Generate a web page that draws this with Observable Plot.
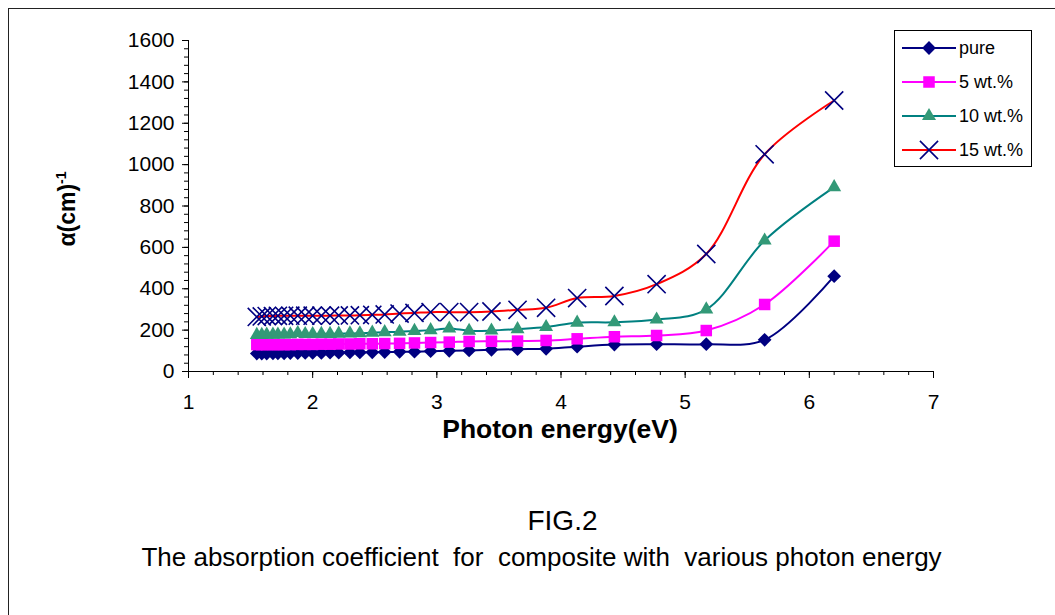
<!DOCTYPE html>
<html>
<head>
<meta charset="utf-8">
<script src="https://cdn.jsdelivr.net/npm/d3@7"></script>
<script src="https://cdn.jsdelivr.net/npm/@observablehq/plot@0.6"></script>
<style>
  html, body { margin: 0; padding: 0; background: #fff; }
  #wrap { position: relative; width: 1055px; height: 615px; background: #fff; overflow: hidden;
          font-family: "Liberation Sans", Arial, sans-serif; }
  #frame { position: absolute; left: 8px; top: 8px; right: -2px; bottom: -2px;
           border-left: 1px solid #222; border-top: 1px solid #222; }
  #chart { position: absolute; left: 0; top: 0; }
  .cap { position: absolute; left: 0; width: 1055px; text-align: center; color: #000; white-space: pre; line-height: 1.15; }
</style>
</head>
<body>
<div id="wrap">
  <div id="frame"></div>
  <div id="chart"></div>
  <div class="cap" id="fig" style="left:35px; top:505px; font-size:28px;">FIG.2</div>
  <div class="cap" id="capline" style="left:14px; top:543px; font-size:26px;">The absorption coefficient  for  composite with  various photon energy</div>
</div>
<script>
// ---- data ----
const energy = [6.2, 5.64, 5.17, 4.77, 4.43, 4.13, 3.88, 3.65, 3.44, 3.26, 3.1, 2.95, 2.82, 2.7, 2.58, 2.48,
                2.38, 2.3, 2.21, 2.14, 2.07, 2.0, 1.94, 1.88, 1.82, 1.77, 1.72, 1.68, 1.63, 1.59, 1.55];
const pure  = [461, 153, 132, 132, 130, 120, 110, 108, 105, 102, 100, 98, 96, 95, 94, 93,
               92, 92, 91, 91, 90, 90, 90, 89, 89, 88, 88, 88, 87, 87, 87];
const wt5   = [630, 324, 198, 174, 168, 158, 150, 147, 146, 145, 142, 140, 138, 136, 135, 134,
               134, 133, 133, 132, 132, 131, 131, 131, 130, 130, 130, 130, 130, 130, 130];
const wt10  = [891, 633, 300, 251, 238, 236, 215, 205, 198, 197, 208, 200, 196, 192, 190, 188,
               185, 184, 183, 182, 182, 181, 181, 186, 180, 179, 179, 178, 178, 177, 177];
const wt15  = [1310, 1050, 568, 422, 365, 355, 308, 298, 290, 287, 287, 287, 283, 280, 276, 274,
               272, 271, 271, 270, 270, 270, 270, 270, 270, 269, 269, 268, 268, 266, 264];
const seriesNames = ["pure", "5 wt.%", "10 wt.%", "15 wt.%"];
const seriesValues = [pure, wt5, wt10, wt15];
const xTicks = [1, 2, 3, 4, 5, 6, 7];
const yTicks = [0, 200, 400, 600, 800, 1000, 1200, 1400, 1600];
const xLabel = "Photon energy(eV)";
const yLabelMain = "α(cm)";
const yLabelSup = "-1";

// ---- styles ----
const styles = [
  {line: "#000080", symbol: "diamond2", fill: "#000080", stroke: "none", r: 6.2, sw: 0, d3sym: d3.symbolDiamond2},
  {line: "#FF00FF", symbol: "square",   fill: "#FF00FF", stroke: "none", r: 6.5, sw: 0, d3sym: d3.symbolSquare},
  {line: "#008080", symbol: "triangle", fill: "#339977", stroke: "none", r: 5.2, sw: 0, d3sym: d3.symbolTriangle},
  {line: "#FF0000", symbol: "times",    fill: "none",    stroke: "#000080", r: 8.3, sw: 1.6, d3sym: d3.symbolTimes}
];

const rows = seriesNames.map((s, i) => energy.map((e, j) => ({series: s, x: e, y: seriesValues[i][j]})));

const minorX = d3.range(10, 71, 2).map(v => v / 10);
const minorY = d3.range(0, 1601, 40);
const fmt = d => String(d);

const marks = [
  Plot.axisX({ticks: minorX, tickSize: 4, tickFormat: () => "", label: null}),
  Plot.axisX({ticks: xTicks, tickSize: 7, tickFormat: () => "", label: null}),
  Plot.axisX({ticks: xTicks, tickSize: 0, tickPadding: 23, fontSize: 21, tickFormat: fmt, label: null}),
  Plot.axisY({ticks: minorY, tickSize: 4, tickFormat: () => "", label: null}),
  Plot.axisY({ticks: yTicks, tickSize: 6, tickFormat: () => "", label: null}),
  Plot.axisY({ticks: yTicks, tickSize: 0, tickPadding: 14, fontSize: 21, tickFormat: fmt, label: null}),
  Plot.ruleY([0], {stroke: "#000", strokeWidth: 1}),
  Plot.ruleX([1], {stroke: "#000", strokeWidth: 1})
];
rows.forEach((data, i) => {
  const st = styles[i];
  marks.push(Plot.line(data, {x: "x", y: "y", stroke: st.line, strokeWidth: 2, curve: "catmull-rom"}));
  marks.push(Plot.dot(data, {x: "x", y: "y", symbol: () => st.symbol, fill: st.fill, stroke: st.stroke,
                              strokeWidth: st.sw, r: st.r}));
});

const svg = Plot.plot({
  width: 1055,
  height: 460,
  marginLeft: 188,
  marginRight: 122,
  marginTop: 40,
  marginBottom: 89,
  x: {domain: [1, 7]},
  y: {domain: [0, 1600]},
  symbol: {type: "identity"},
  style: {fontFamily: "'Liberation Sans', Arial, sans-serif", fontSize: "21px", color: "#000", background: "transparent", overflow: "visible"},
  marks
});
document.getElementById("chart").appendChild(svg);

const s = d3.select(svg);
// x axis title
s.append("text").attr("x", 560).attr("y", 438).attr("text-anchor", "middle")
  .attr("font-size", 26.5).attr("font-weight", "bold").attr("fill", "#000").text(xLabel);
// y axis title
const yt = s.append("text").attr("transform", "translate(75,209) rotate(-90)")
  .attr("text-anchor", "middle").attr("font-size", 23).attr("font-weight", "bold").attr("fill", "#000");
yt.append("tspan").text(yLabelMain);
yt.append("tspan").attr("dy", -9).attr("font-size", 14).text(yLabelSup);

// legend
const lg = s.append("g");
lg.append("rect").attr("x", 894.5).attr("y", 30.5).attr("width", 137).attr("height", 136)
  .attr("fill", "#fff").attr("stroke", "#000").attr("stroke-width", 1);
seriesNames.forEach((name, i) => {
  const st = styles[i];
  const cy = 48 + i * 34;
  lg.append("line").attr("x1", 902).attr("x2", 956).attr("y1", cy).attr("y2", cy)
    .attr("stroke", st.line).attr("stroke-width", 2);
  lg.append("path").attr("transform", `translate(929,${cy})`)
    .attr("d", d3.symbol(st.d3sym, st.r * st.r * Math.PI)())
    .attr("fill", st.fill).attr("stroke", st.stroke).attr("stroke-width", st.sw);
  lg.append("text").attr("x", 959).attr("y", cy).attr("dy", "0.35em").attr("text-anchor", "start")
    .attr("font-size", 18).attr("fill", "#000").text(name);
});
</script>
</body>
</html>
